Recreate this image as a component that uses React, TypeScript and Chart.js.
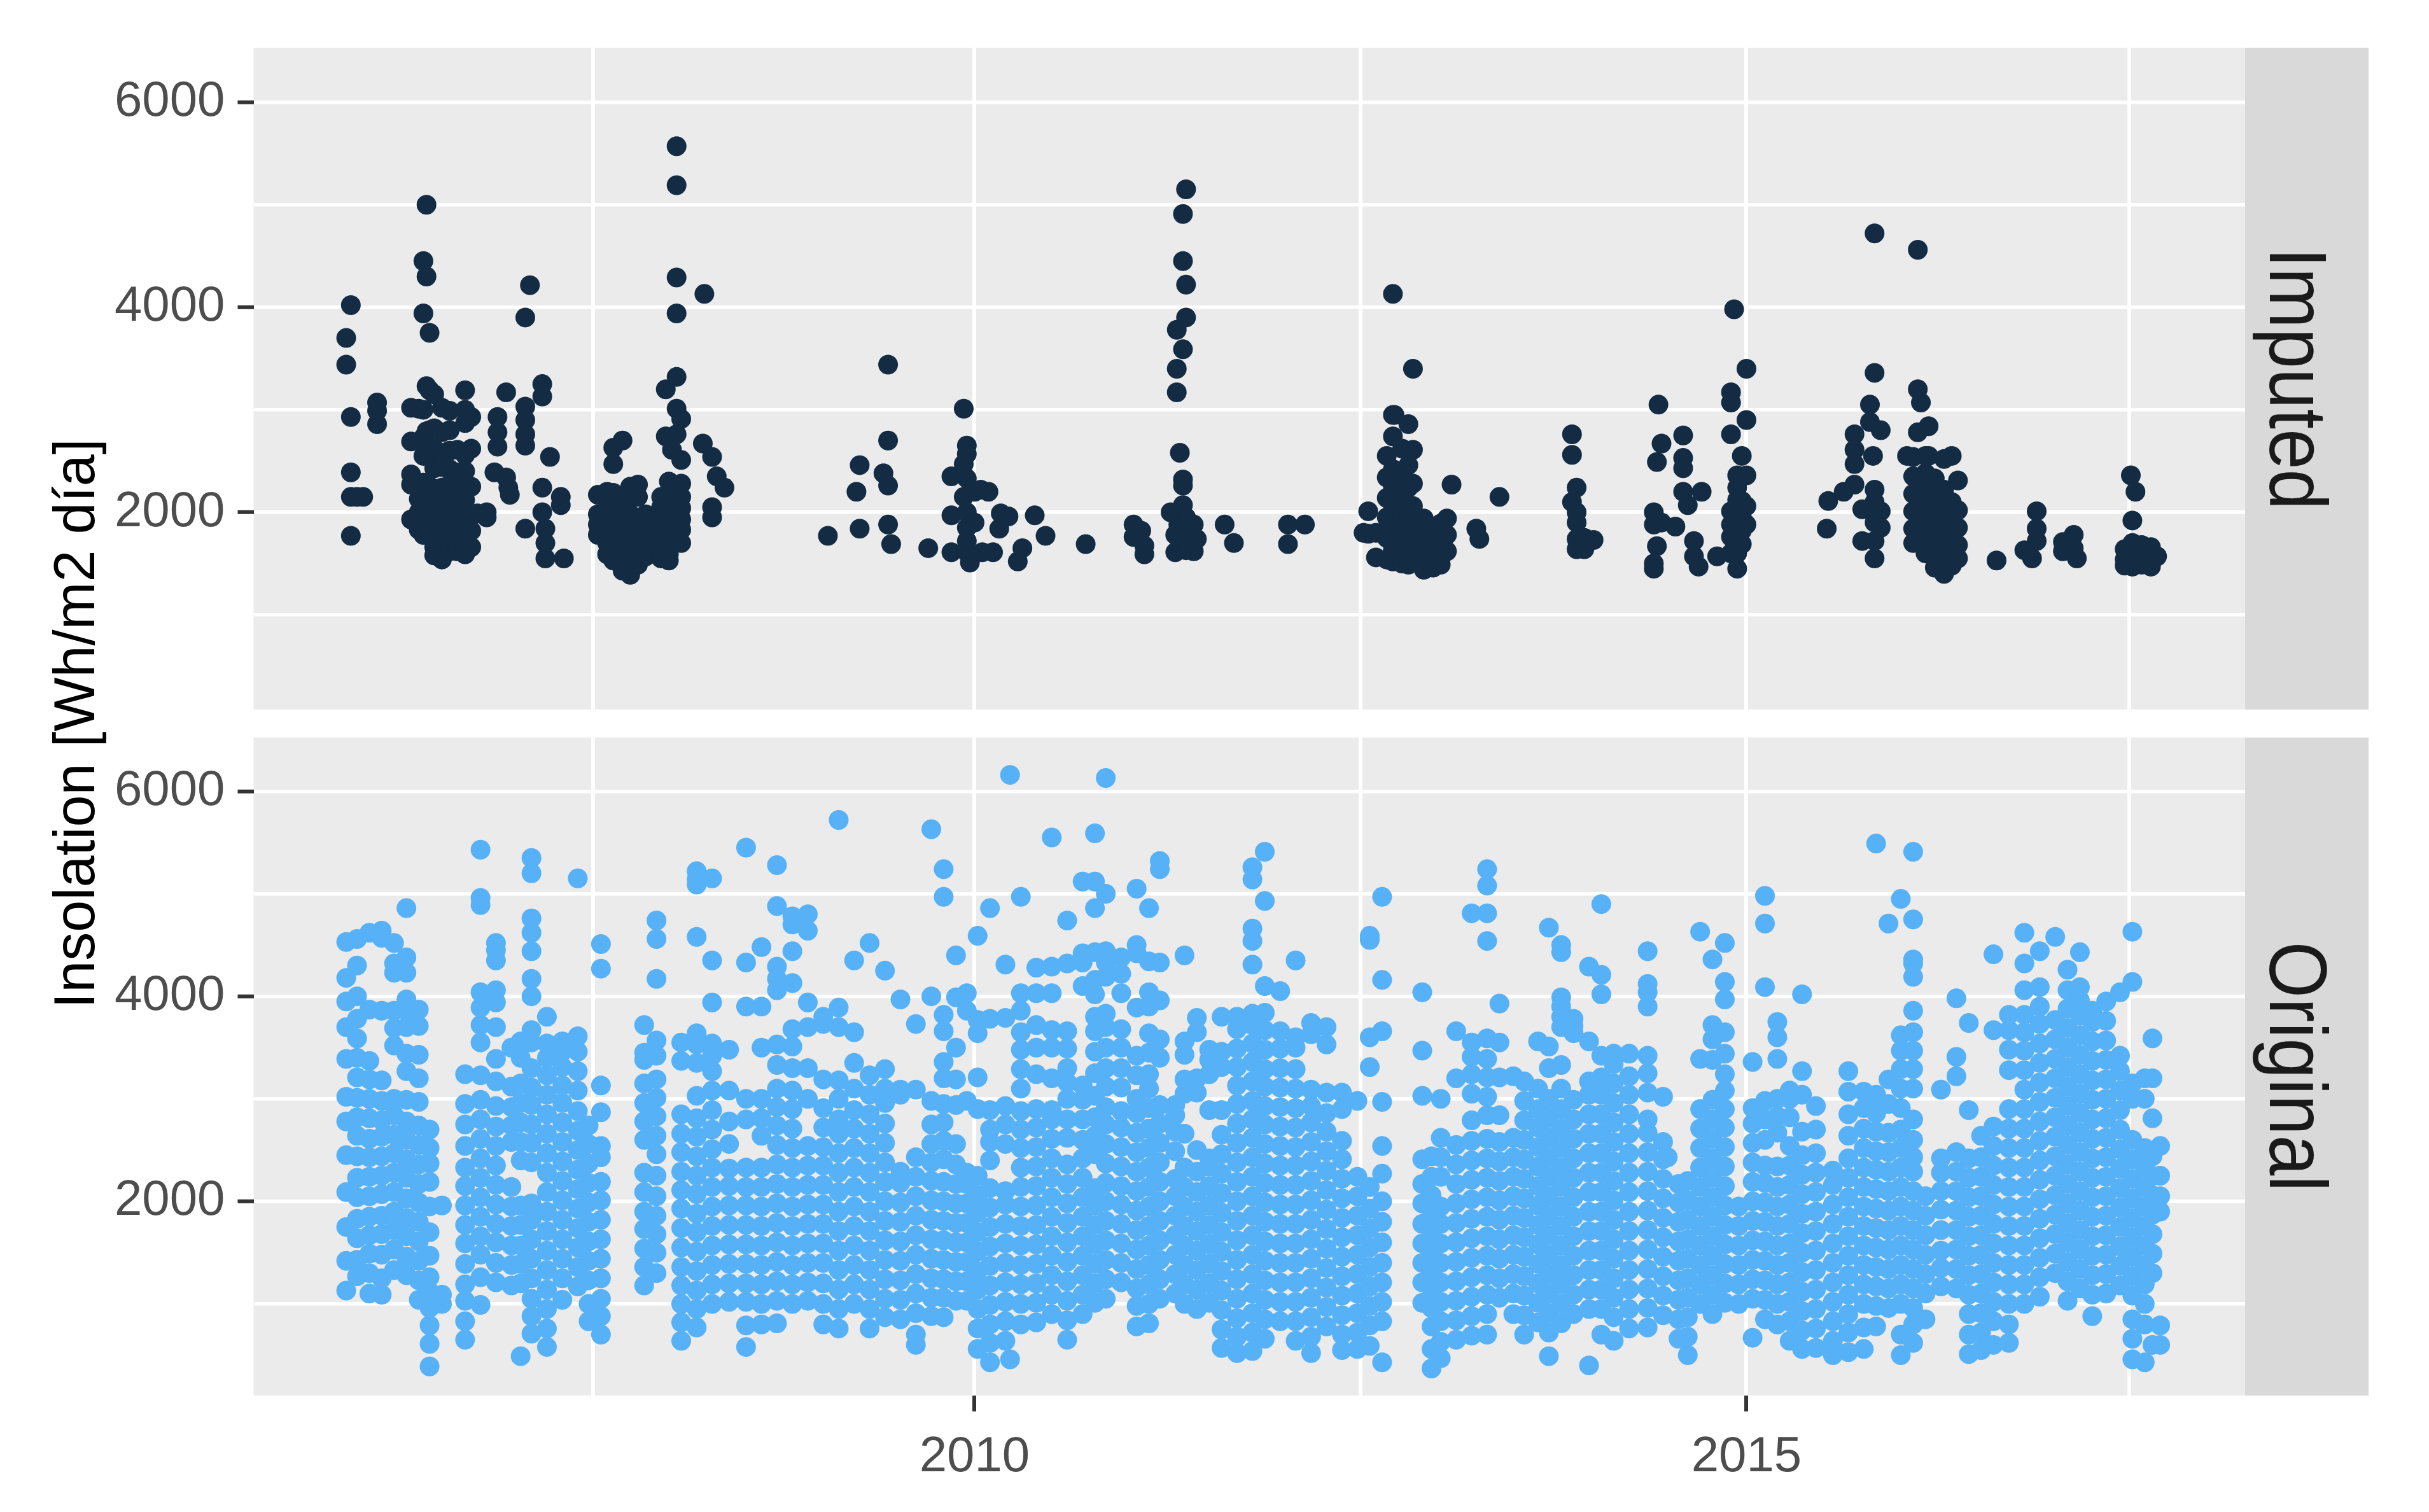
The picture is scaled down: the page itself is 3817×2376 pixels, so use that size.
import React, { useEffect, useRef } from "react";
import { Chart, registerables } from "chart.js";

Chart.register(...registerables);

const xBreaks = [2007.53, 2010, 2012.5, 2015, 2017.48];
const xLabelled = [2010, 2015];
const yBreaks = [1000, 2000, 3000, 4000, 5000, 6000];
const yLabelled = [2000, 4000, 6000];
const facets = ["Imputed", "Original"];
const yTitle = "Insolation [Wh/m2 día]";

// each row: year, then the insolation values read at that year
const imputed2006to2008 = [
  [2005.93, 3700, 3440], [2005.96, 4020, 2930, 2390, 2150, 1770], [2006.0, 2150], [2006.04, 2150], [2006.13, 3070, 2990, 2860],
  [2006.35, 3020, 2690, 2370, 2270, 1930], [2006.4, 3010, 2130, 2000, 1900, 1830], [2006.43, 4450, 3940, 3000, 2730, 2550, 2290, 2100, 1990, 1870, 1780],
  [2006.45, 5000, 4300, 3230, 2790, 2650, 2290, 2120, 2000, 1840], [2006.47, 3750, 3190, 2800, 2560],
  [2006.5, 3150, 2820, 2620, 2430, 2230, 2080, 1950, 1810, 1660, 1580], [2006.55, 3020, 2780, 2580, 2440, 2240, 2090, 1920, 1790, 1670, 1540],
  [2006.6, 2990, 2800, 2600, 2420, 2270, 2120, 1970, 1820, 1690, 1620], [2006.65, 2610, 2390, 2200, 2020, 1860, 1710, 1620],
  [2006.7, 3190, 3000, 2870, 2560, 2400, 2250, 2120, 1990, 1810, 1680, 1590], [2006.74, 2930, 2620, 2250, 1970, 1820, 1660],
  [2006.78, 1990], [2006.84, 2000, 1950], [2006.89, 2390], [2006.91, 2930, 2780, 2640], [2006.966, 3170, 2340], [2006.98, 2240], [2006.99, 2170],
  [2007.09, 3900, 3030, 2900, 2760, 2650, 1840], [2007.12, 4215], [2007.2, 3250, 3130, 2240, 2000], [2007.22, 1840, 1700, 1550], [2007.25, 2540], [2007.32, 2150, 2070], [2007.34, 1550],
  [2007.56, 2170, 1980, 1880, 1780], [2007.62, 2200, 2060, 1930, 1800, 1700, 1590], [2007.66, 2630, 2470, 2190, 1990, 1870, 1750, 1640, 1530],
  [2007.72, 2700, 2150, 2050, 1940, 1830, 1720, 1600, 1490, 1430], [2007.77, 2250, 2150, 1980, 1860, 1760, 1650, 1530, 1420, 1390],
  [2007.82, 2270, 2150, 1920, 1800, 1690, 1590, 1490], [2007.87, 1980, 1860, 1750, 1640, 1570], [2007.94, 1950, 1830, 1720, 1630, 1590],
  [2007.97, 2050, 2150, 1940, 1820, 1700, 1600, 1550], [2008.0, 3200, 2740], [2008.02, 2300, 2170, 2060, 1950, 1830, 1720, 1590, 1530], [2008.04, 2610],
  [2008.07, 5570, 5190, 4290, 3940, 3320, 3010, 2760, 2260, 2090, 1900, 1780], [2008.1, 2910, 2510, 2280, 2150, 2040, 1930, 1830, 1700],
  [2008.24, 2670], [2008.25, 4130], [2008.3, 2540, 2050, 1950], [2008.33, 2350], [2008.38, 2240],
];
const imputed2009to2012 = [
  [2009.05, 1770], [2009.235, 2200], [2009.256, 2460, 1840], [2009.41, 2380], [2009.44, 3440, 2700, 2260, 1880], [2009.46, 1690], [2009.7, 1650],
  [2009.85, 2350, 1970, 1610], [2009.93, 3010, 2470, 2150], [2009.95, 2650, 2570, 2330, 2000, 1850, 1720, 1610], [2009.97, 1510], [2010.0, 2200, 1900],
  [2010.04, 2220], [2010.05, 1610], [2010.09, 2200], [2010.12, 1610], [2010.16, 1840], [2010.17, 1990], [2010.22, 1960], [2010.28, 1520], [2010.31, 1650], [2010.39, 1970], [2010.46, 1770], [2010.72, 1690],
  [2011.03, 1760, 1880], [2011.08, 1820], [2011.1, 1675, 1590], [2011.27, 2000], [2011.3, 1610, 1780], [2011.31, 3780, 3400, 3170], [2011.32, 1880], [2011.33, 2580],
  [2011.35, 4910, 4450, 3590, 2320, 2260, 2070], [2011.37, 5150, 4220, 3900, 1950, 1740, 1630], [2011.42, 1880, 1760, 1620], [2011.44, 1740],
  [2011.62, 1880], [2011.68, 1700], [2012.03, 1880, 1690], [2012.14, 1880],
  [2012.52, 1800], [2012.55, 2010, 1790], [2012.6, 1800, 1560], [2012.67, 2550, 2340, 2140, 1950, 1750, 1540], [2012.71, 4130, 2950, 2740, 2420, 2230, 2030, 1850, 1640, 1520],
  [2012.72, 2950], [2012.77, 2620, 2330, 2150, 1960, 1780, 1600, 1500], [2012.81, 2860, 2460, 2240, 2030, 1840, 1680, 1490], [2012.84, 3400, 2610, 2280, 2060, 1880, 1700, 1560],
  [2012.91, 1940, 1790, 1640, 1520, 1440], [2012.97, 1820, 1680, 1540, 1460], [2013.02, 1890, 1730, 1590, 1490], [2013.06, 1940, 1780, 1620], [2013.09, 2270],
];
const imputed2013to2017 = [
  [2013.25, 1840], [2013.27, 1740], [2013.4, 2150], [2013.87, 2760, 2560, 2100], [2013.9, 2240, 2000, 1900, 1740, 1640], [2013.95, 1750, 1640], [2014.01, 1730],
  [2014.4, 2000, 1880, 1500, 1450], [2014.42, 2490, 1670], [2014.43, 3050], [2014.45, 2670, 1900], [2014.54, 1860], [2014.59, 2750, 2530, 2430, 2200], [2014.62, 2070], [2014.66, 1720, 1570], [2014.69, 1470], [2014.71, 2200], [2014.81, 1570],
  [2014.9, 3170, 3070, 2760, 2010, 1880, 1760, 1600], [2014.92, 3980], [2014.94, 2360, 2240, 2120, 1880, 1720, 1600, 1450], [2014.97, 2550, 2110, 1950, 1820, 1690], [2015.0, 3400, 2900, 2360, 2060, 1880],
  [2015.52, 1840], [2015.53, 2110], [2015.63, 2200], [2015.7, 2760, 2610, 2470, 2270], [2015.75, 2030, 1720], [2015.8, 3050, 2880], [2015.82, 2550], [2015.83, 4720, 3360, 2220, 2100, 1900, 1720, 1550], [2015.87, 2800, 2010, 1850],
  [2016.04, 2550], [2016.08, 2540, 2350, 2180, 2010, 1840, 1700], [2016.11, 4560, 3200, 2780], [2016.13, 3070], [2016.16, 2550, 2380, 2220, 2060, 1890, 1720, 1600],
  [2016.18, 2840, 2550], [2016.22, 2330, 2170, 2000, 1840, 1680, 1540, 1460], [2016.28, 2520, 2220, 2060, 1900, 1730, 1570, 1460, 1400], [2016.33, 2550, 2100, 1920, 1760, 1600, 1480], [2016.37, 2310, 2020, 1850, 1680, 1550],
  [2016.62, 1530], [2016.8, 1630], [2016.85, 1550], [2016.88, 2010, 1840, 1720], [2017.05, 1710, 1620], [2017.12, 1780, 1650], [2017.14, 1550],
  [2017.45, 1640, 1540, 1480], [2017.49, 2360], [2017.5, 1920, 1700, 1580, 1470], [2017.52, 2200], [2017.56, 1680, 1560, 1490], [2017.62, 1660, 1550, 1470], [2017.66, 1570],
];

const original2006 = [
  [2005.93, 1130, 1420, 1750, 2090, 2450, 2780, 3020, 3390, 3700, 3950, 4180, 4530],
  [2006.0, 1270, 1430, 1640, 1830, 2040, 2230, 2440, 2640, 2820, 3010, 3210, 3400, 3590, 3780, 4000, 4300, 4560],
  [2006.08, 1100, 1300, 1490, 1670, 1850, 2050, 2240, 2430, 2610, 2810, 3000, 3190, 3370, 3870, 4620],
  [2006.16, 1090, 1250, 1480, 1680, 1860, 2070, 2250, 2440, 2630, 2790, 2980, 3180, 3860, 4640, 4570],
  [2006.24, 1330, 1530, 1720, 1900, 2090, 2280, 2470, 2650, 2840, 3000, 3520, 3690, 3860, 4230, 4320, 4520],
  [2006.32, 1280, 1460, 1660, 1840, 2030, 2230, 2410, 2600, 2780, 2990, 3270, 3440, 3700, 3860, 3970, 4230, 4380, 4860],
  [2006.4, 1040, 1230, 1420, 1610, 1800, 1990, 2170, 2360, 2550, 2740, 2970, 3200, 3430, 3710, 3870],
  [2006.47, 390, 610, 790, 960, 1120, 1260, 1470, 1700, 1950, 2190, 2370, 2520, 2700],
  [2006.55, 1000, 1090, 1960],
  [2006.7, 650, 830, 1030, 1190, 1390, 1590, 1770, 1960, 2150, 2330, 2540, 2750, 2950, 3240],
  [2006.8, 990, 1260, 1480, 1660, 1850, 2040, 2230, 2420, 2610, 2800, 2990, 3230, 3550, 3720, 3890, 4040, 4890, 4960, 5430],
  [2006.9, 1210, 1400, 1600, 1780, 1970, 2160, 2350, 2540, 2730, 2930, 3170, 3390, 3700, 3940, 4060, 4350, 4450, 4520],
];
const original2007 = [
  [2007.0, 1180, 1380, 1570, 1760, 1950, 2140, 2580, 2740, 2920, 3120, 3500],
  [2007.06, 490, 1200, 1390, 1570, 1770, 1960, 2400, 2580, 2770, 2960, 3150, 3400, 3560],
  [2007.13, 710, 880, 1050, 1250, 1440, 1630, 1820, 1980, 2380, 2570, 2750, 2940, 3110, 3300, 3550, 3670, 4000, 4170, 4440, 4620, 4760, 5200, 5350],
  [2007.23, 580, 760, 950, 1140, 1330, 1520, 1710, 1900, 2090, 2280, 2470, 2660, 2850, 3040, 3230, 3400, 3540, 3800],
  [2007.33, 1040, 1250, 1440, 1630, 1820, 2010, 2200, 2390, 2580, 2770, 2960, 3130, 3310, 3460, 3560],
  [2007.43, 1170, 1360, 1550, 1740, 1930, 2120, 2310, 2500, 2690, 2880, 3080, 3270, 3460, 3610, 5150],
  [2007.5, 830, 1000, 1230, 1420, 1610, 1800, 1990, 2180, 2370, 2560, 2740],
  [2007.58, 700, 880, 1050, 1250, 1440, 1630, 1820, 2010, 2190, 2430, 2540, 2870, 3130, 4270, 4510],
  [2007.86, 1180, 1360, 1540, 1730, 1900, 2090, 2280, 2600, 2780, 2960, 3150, 3380, 3450, 3720],
  [2007.94, 1300, 1500, 1680, 1860, 2050, 2250, 2460, 2640, 2830, 3010, 3190, 3420, 3570, 4170, 4560, 4740],
];
const original2008 = [
  [2008.1, 640, 820, 1000, 1180, 1360, 1550, 1740, 1930, 2110, 2290, 2480, 2660, 2850, 3370, 3550],
  [2008.2, 770, 950, 1130, 1320, 1510, 1700, 1880, 2070, 2250, 2440, 2630, 2810, 3030, 3350, 3530, 3640, 4580, 5090, 5140, 5220],
  [2008.3, 1000, 1190, 1380, 1570, 1760, 1950, 2140, 2330, 2510, 2700, 2890, 3080, 3270, 3420, 3540, 3940, 4350, 5150],
  [2008.41, 1020, 1200, 1390, 1580, 1770, 1960, 2150, 2320, 2560, 2780, 3080, 3480],
  [2008.52, 580, 790, 1020, 1200, 1390, 1580, 1770, 1960, 2140, 2330, 2800, 3000, 3900, 4330, 5450],
  [2008.62, 800, 1000, 1190, 1380, 1570, 1760, 1950, 2140, 2330, 2640, 2810, 3000, 3500, 3900, 4480],
  [2008.72, 810, 1030, 1220, 1410, 1600, 1790, 1980, 2170, 2360, 2550, 2740, 2920, 3100, 3330, 3530, 4060, 4170, 4290, 4880, 5280],
  [2008.82, 1000, 1190, 1380, 1570, 1760, 1950, 2140, 2330, 2520, 2710, 2900, 3080, 3300, 3510, 3680, 4130, 4440, 4700, 4780],
  [2008.92, 1030, 1210, 1400, 1590, 1780, 1970, 2160, 2350, 2540, 3000, 3300, 3700, 3940, 4640, 4800],
];
const original2009 = [
  [2009.02, 800, 1000, 1200, 1400, 1590, 1780, 1970, 2160, 2350, 2530, 2720, 2910, 3190, 3730, 3800],
  [2009.12, 760, 950, 1140, 1330, 1520, 1710, 1900, 2090, 2280, 2470, 2660, 2800, 3000, 3180, 3700, 3890, 5720],
  [2009.22, 1000, 1190, 1380, 1570, 1760, 1950, 2140, 2330, 2520, 2710, 2890, 3100, 3350, 3650, 4350],
  [2009.32, 760, 950, 1140, 1330, 1520, 1710, 1900, 2090, 2280, 2470, 2660, 2850, 3040, 3230, 4520],
  [2009.42, 870, 1050, 1240, 1430, 1620, 1810, 2000, 2190, 2380, 2570, 2760, 2960, 3100, 3290, 4250],
  [2009.52, 850, 1040, 1230, 1420, 1610, 1800, 1990, 2180, 2290, 3040, 3090, 3970],
  [2009.62, 600, 700, 910, 1100, 1290, 1480, 1670, 1860, 2050, 2240, 2430, 3090, 3730],
  [2009.72, 880, 1060, 1250, 1440, 1630, 1820, 2010, 2200, 2380, 2560, 2750, 2980, 4000, 5630],
  [2009.8, 870, 1060, 1240, 1430, 1620, 1810, 2000, 2190, 2410, 2590, 2770, 2950, 3200, 3360, 3660, 3820, 4970, 5240],
  [2009.88, 1030, 1220, 1410, 1600, 1790, 1980, 2170, 2360, 2560, 2940, 3190, 3500, 3990, 4400],
  [2009.95, 1030, 1220, 1410, 1600, 1790, 1980, 2170, 2280, 2980, 3860, 4030],
];
const original2010 = [
  [2010.02, 560, 760, 950, 1140, 1320, 1510, 1700, 1890, 2060, 2250, 2900, 3210, 3640, 3770, 4590],
  [2010.1, 430, 620, 800, 990, 1180, 1370, 1560, 1750, 1940, 2130, 2400, 2580, 2700, 2890, 3780, 4860],
  [2010.2, 640, 830, 1020, 1210, 1400, 1590, 1780, 1970, 2100, 2560, 2750, 2930, 3790, 4310],
  [2010.23, 460, 6160],
  [2010.3, 800, 1000, 1190, 1380, 1570, 1760, 1950, 2140, 2330, 2520, 2700, 2880, 3100, 3290, 3480, 3650, 3860, 4030, 4970],
  [2010.4, 820, 1010, 1200, 1390, 1580, 1770, 1960, 2150, 2340, 2530, 2720, 2900, 3240, 3500, 3720, 4030, 4280],
  [2010.5, 900, 1090, 1280, 1470, 1660, 1850, 2040, 2230, 2420, 2610, 2800, 2890, 3200, 3500, 3670, 4030, 4290, 5550],
  [2010.6, 650, 840, 1030, 1220, 1410, 1600, 1790, 1980, 2170, 2360, 2620, 2800, 3000, 3160, 3300, 3490, 3660, 4320, 4740],
  [2010.7, 900, 1090, 1280, 1470, 1660, 1850, 2040, 2230, 2420, 2600, 2800, 2990, 3130, 4100, 4330, 4420, 5120],
  [2010.78, 1010, 1200, 1390, 1580, 1770, 1960, 2130, 2460, 2640, 2820, 3030, 3250, 3460, 3660, 3800, 4020, 4160, 4430, 4860, 5120, 5590],
  [2010.85, 1050, 1240, 1430, 1620, 1810, 2000, 2180, 2370, 2560, 2750, 2920, 3120, 3300, 3500, 3700, 3830, 4190, 4330, 4440, 5000, 6130],
  [2010.95, 1210, 1400, 1590, 1780, 1970, 2150, 2340, 2530, 2720, 2880, 3110, 3300, 3500, 3680, 4030, 4220, 4380],
];
const original2011 = [
  [2011.05, 780, 980, 1150, 1340, 1530, 1720, 1910, 2100, 2290, 2480, 2670, 2860, 3000, 3230, 3420, 3890, 4420, 4500, 5050],
  [2011.13, 810, 1000, 1190, 1380, 1570, 1760, 1950, 2140, 2330, 2520, 2710, 2910, 3100, 3240, 3450, 3640, 3900, 4040, 4340, 4860],
  [2011.2, 1050, 1240, 1430, 1620, 1810, 2000, 2190, 2380, 2570, 2760, 2940, 3400, 3580, 3960, 4330, 5240, 5320],
  [2011.3, 1100, 1290, 1480, 1670, 1860, 2050, 2220, 2490, 2680, 2840, 2940],
  [2011.36, 1000, 1190, 1380, 1570, 1760, 1950, 2140, 2330, 2660, 3050, 3190, 3430, 3560, 4400],
  [2011.44, 950, 1140, 1330, 1520, 1710, 1900, 2090, 2290, 2500, 3060, 3200, 3650, 3790],
  [2011.52, 1010, 1200, 1390, 1580, 1770, 1960, 2150, 2340, 2420, 2890, 3240, 3380, 3480],
  [2011.6, 570, 750, 940, 1130, 1320, 1510, 1700, 1890, 2080, 2270, 2460, 2650, 2890, 3310, 3460, 3800],
  [2011.7, 520, 680, 860, 1050, 1240, 1430, 1620, 1810, 2000, 2190, 2380, 2570, 2760, 2950, 3130, 3310, 3490, 3680, 3800],
  [2011.8, 540, 720, 910, 1100, 1290, 1480, 1670, 1860, 2050, 2240, 2430, 2620, 2800, 2980, 3170, 3360, 3540, 3720, 3830, 4310, 4540, 4660, 5140, 5260],
  [2011.88, 660, 850, 1040, 1230, 1420, 1610, 1800, 1990, 2180, 2370, 2560, 2750, 2930, 3120, 3290, 3480, 3670, 3840, 4100, 4930, 5410],
  [2011.98, 830, 1020, 1210, 1400, 1590, 1780, 1970, 2160, 2350, 2540, 2730, 2920, 3110, 3300, 3490, 3660, 4050],
];
const original2012 = [
  [2012.08, 640, 830, 1020, 1210, 1400, 1590, 1780, 1970, 2160, 2350, 2530, 2720, 2910, 3100, 3290, 3500, 3600, 4350],
  [2012.18, 520, 680, 870, 1060, 1250, 1440, 1630, 1820, 2010, 2200, 2390, 2580, 2770, 2930, 3090, 3630, 3740],
  [2012.28, 780, 970, 1160, 1350, 1540, 1730, 1920, 2110, 2300, 2490, 2680, 2860, 3060, 3530, 3700],
  [2012.38, 550, 700, 890, 1080, 1270, 1460, 1650, 1840, 2030, 2220, 2410, 2590, 2900, 3060],
  [2012.48, 560, 720, 910, 1100, 1290, 1480, 1670, 1860, 2050, 2240, 2980],
  [2012.56, 590, 790, 980, 1170, 1360, 1550, 1740, 1930, 2140, 3310, 3600, 4550, 4590],
  [2012.64, 430, 830, 1020, 1210, 1400, 1600, 1800, 2000, 2270, 2540, 2970, 3660, 4160, 4970],
  [2012.9, 1010, 1210, 1400, 1590, 1780, 1980, 2170, 2410, 3030, 3470, 4040],
  [2012.96, 370, 560, 780, 960, 1150, 1340, 1530, 1720, 1900, 2060, 2240, 2440],
];
const original2013 = [
  [2013.02, 470, 630, 830, 1020, 1210, 1400, 1590, 1780, 1950, 2240, 2430, 2620, 3000],
  [2013.12, 650, 840, 1030, 1220, 1410, 1600, 1790, 1980, 2170, 2360, 2550, 3200, 3660],
  [2013.22, 690, 880, 1070, 1260, 1450, 1640, 1830, 2020, 2210, 2400, 2590, 2790, 3050, 3240, 3410, 3550, 4810],
  [2013.32, 700, 900, 1090, 1280, 1470, 1660, 1850, 2040, 2230, 2420, 2610, 2840, 3020, 3210, 3390, 3590, 4540, 4810, 5080, 5240],
  [2013.4, 1060, 1250, 1440, 1630, 1820, 2010, 2200, 2390, 2580, 2840, 3210, 3550, 3930],
  [2013.49, 900, 1100, 1290, 1480, 1670, 1860, 2050, 2240, 2430, 2620, 3220],
  [2013.56, 700, 890, 1080, 1270, 1460, 1650, 1840, 2030, 2220, 2410, 2600, 2790, 2980, 3170],
  [2013.65, 820, 1010, 1200, 1390, 1580, 1770, 1960, 2150, 2340, 2530, 2720, 2900, 3100, 3560],
  [2013.72, 490, 720, 910, 1100, 1290, 1480, 1670, 1860, 2050, 2240, 2430, 2620, 2810, 3000, 3300, 3510, 4670],
  [2013.8, 810, 1000, 1190, 1380, 1570, 1760, 1950, 2140, 2330, 2520, 2710, 2900, 3100, 3330, 3700, 3800, 3900, 3990, 4430, 4500],
  [2013.88, 900, 1090, 1280, 1470, 1660, 1850, 2040, 2230, 2420, 2610, 2800, 2990, 3640, 3710, 3780],
  [2013.98, 400, 950, 1140, 1330, 1520, 1710, 1900, 2090, 2280, 2470, 2660, 2850, 3040, 3170, 3560, 4290],
];
const original2014 = [
  [2014.06, 700, 950, 1140, 1330, 1520, 1710, 1900, 2090, 2280, 2470, 2660, 2850, 3040, 3210, 3420, 4020, 4210, 4900],
  [2014.14, 640, 870, 1060, 1250, 1440, 1630, 1820, 2010, 2200, 2390, 2580, 2770, 2960, 3150, 3340, 3440],
  [2014.24, 760, 950, 1140, 1330, 1520, 1710, 1900, 2090, 2280, 2470, 2660, 2850, 3040, 3220, 3440],
  [2014.36, 770, 960, 1150, 1340, 1530, 1720, 1910, 2100, 2290, 2480, 2670, 2800, 3060, 3250, 3420, 3900, 4040, 4120, 4440],
  [2014.46, 890, 1080, 1270, 1460, 1650, 1840, 2030, 2220, 2410, 2580, 3020],
  [2014.49, 2430],
  [2014.56, 660, 850, 1040, 1230, 1420, 1610, 1800, 1990, 2170],
  [2014.62, 500, 680, 870, 1060, 1250, 1440, 1630, 1820, 2010, 2200],
  [2014.7, 1000, 1190, 1380, 1570, 1760, 1950, 2140, 2330, 2520, 2710, 2900, 3390, 4630],
  [2014.78, 900, 1090, 1280, 1470, 1660, 1850, 2040, 2230, 2420, 2610, 2800, 2990, 3380, 3580, 3720, 4360],
  [2014.86, 1010, 1200, 1390, 1580, 1770, 1960, 2150, 2340, 2530, 2720, 2900, 3080, 3240, 3440, 3650, 3970, 4140, 4520],
  [2014.95, 1000, 1190, 1380, 1570, 1760, 1950],
];
const original2015 = [
  [2015.04, 670, 1050, 1240, 1430, 1620, 1810, 2000, 2190, 2380, 2570, 2760, 2910, 3360],
  [2015.12, 850, 1040, 1230, 1420, 1610, 1800, 1990, 2180, 2350, 2600, 2800, 2980, 4090, 4710, 4980],
  [2015.2, 800, 1000, 1190, 1380, 1570, 1760, 1950, 2140, 2340, 2670, 2830, 3000, 3390, 3600, 3750],
  [2015.28, 640, 830, 1020, 1210, 1400, 1590, 1780, 1970, 2160, 2350, 2540, 2820, 3000, 3080],
  [2015.36, 560, 740, 930, 1120, 1310, 1500, 1690, 1880, 2070, 2260, 2450, 2680, 3040, 3270, 4020],
  [2015.45, 570, 760, 950, 1140, 1330, 1520, 1710, 1900, 2090, 2280, 2470, 2700, 2930],
  [2015.56, 500, 640, 830, 1020, 1210, 1400, 1590, 1780, 1970, 2160, 2300],
  [2015.66, 530, 720, 900, 1090, 1280, 1470, 1660, 1850, 2040, 2230, 2420, 2640, 2850, 3070, 3270],
  [2015.76, 560, 770, 1000, 1190, 1380, 1570, 1760, 1950, 2140, 2330, 2520, 2710, 2910, 3070],
  [2015.84, 780, 980, 1170, 1360, 1550, 1740, 1930, 2120, 2310, 2490, 2680, 2860, 3040, 5490],
  [2015.92, 960, 1150, 1340, 1530, 1720, 1910, 2100, 2290, 2480, 2670, 2950, 3190, 4710],
];
const original2016 = [
  [2016.0, 500, 700, 1000, 1190, 1380, 1570, 1760, 1950, 2140, 2330, 2520, 2700, 2910, 3100, 3290, 3470, 3620, 4950],
  [2016.08, 620, 800, 960, 1150, 1340, 1530, 1720, 1910, 2100, 2290, 2430, 2600, 2800, 3100, 3290, 3470, 3650, 3860, 4190, 4320, 4360, 4750, 5410],
  [2016.16, 850, 1100, 1290, 1480, 1670, 1860, 2050],
  [2016.26, 1170, 1350, 1520, 1720, 1920, 2100, 2280, 2420, 3090],
  [2016.36, 1150, 1340, 1530, 1720, 1910, 2100, 2290, 2480, 3220, 3410, 3980],
  [2016.44, 510, 700, 900, 1090, 1280, 1470, 1660, 1850, 2040, 2230, 2420, 2890, 3740],
  [2016.52, 550, 720, 910, 1100, 1290, 1480, 1670, 1860, 2050, 2240, 2430, 2640],
  [2016.6, 600, 830, 1020, 1210, 1400, 1590, 1780, 1970, 2160, 2350, 2540, 2730, 3670, 4410],
  [2016.7, 620, 800, 1000, 1190, 1380, 1570, 1760, 1950, 2140, 2330, 2520, 2710, 2900, 3280, 3480, 3670, 3820],
  [2016.8, 1000, 1190, 1380, 1570, 1760, 1950, 2140, 2330, 2520, 2710, 2900, 3090, 3280, 3470, 3650, 3820, 4060, 4320, 4620],
  [2016.9, 1070, 1260, 1450, 1640, 1830, 2020, 2210, 2400, 2590, 2780, 2970, 3160, 3350, 3540, 3730, 3900, 4090, 4440],
];
const original2017 = [
  [2017.0, 1300, 1490, 1680, 1870, 2060, 2250, 2440, 2630, 2820, 3010, 3200, 3390, 3580, 3770, 4580],
  [2017.08, 1030, 1220, 1410, 1600, 1790, 1980, 2170, 2360, 2550, 2740, 2930, 3120, 3310, 3500, 3690, 3880, 4060, 4260],
  [2017.16, 1150, 1340, 1530, 1720, 1910, 2100, 2290, 2480, 2670, 2860, 3050, 3240, 3430, 3620, 3810, 3960, 4090, 4430],
  [2017.24, 880, 1090, 1280, 1470, 1660, 1850, 2040, 2230, 2420, 2610, 2800, 2990, 3180, 3370, 3560, 3750, 3860],
  [2017.33, 1100, 1290, 1480, 1670, 1860, 2050, 2240, 2430, 2620, 2810, 3000, 3190, 3380, 3570, 3760, 3950],
  [2017.42, 1180, 1370, 1560, 1750, 1940, 2130, 2320, 2510, 2700, 2890, 3080, 3270, 3420, 4040],
  [2017.5, 460, 660, 850, 1080, 1270, 1460, 1650, 1840, 2030, 2220, 2410, 2600, 3000, 3150, 4140, 4630],
  [2017.58, 430, 800, 1000, 1190, 1380, 1570, 1760, 1950, 2140, 2330, 2520, 3000, 3200],
  [2017.63, 600, 1300, 1490, 1680, 1870, 2060, 2250, 2440, 2810, 3200, 3590],
  [2017.68, 600, 790, 1900, 2050, 2250, 2540],
];

const toPoints = (rows: number[][]) => rows.flatMap(([x, ...ys]) => ys.map((y) => ({ x, y })));
const imputedPoints = toPoints([...imputed2006to2008, ...imputed2009to2012, ...imputed2013to2017]);
const originalPoints = toPoints([
  ...original2006, ...original2007, ...original2008, ...original2009, ...original2010, ...original2011,
  ...original2012, ...original2013, ...original2014, ...original2015, ...original2016, ...original2017,
]);

const W = 3817;
const H = 2376;
const FONT = '"Liberation Sans", Arial, sans-serif';
const panelLeft = 398.5;
const panelRight = 3528;
const stripRight = 3722;
const panelTop = 75;
const panelBottom = 2193;
const gap = 44;
const topHeight = 1040;
const botHeight = 1034;

const panelPlugin = {
  id: "panels",
  beforeDraw(chart: any) {
    const { ctx } = chart;
    const yTop = chart.scales.yTop;
    const yBot = chart.scales.yBot;
    ctx.save();
    ctx.fillStyle = "#FFFFFF";
    ctx.fillRect(0, 0, W, H);
    [yTop, yBot].forEach((s: any, i: number) => {
      ctx.fillStyle = "#EBEBEB";
      ctx.fillRect(panelLeft, s.top, panelRight - panelLeft, s.bottom - s.top);
      ctx.fillStyle = "#D9D9D9";
      ctx.fillRect(panelRight, s.top, stripRight - panelRight, s.bottom - s.top);
      ctx.save();
      ctx.translate(3567, (s.top + s.bottom) / 2);
      ctx.rotate(Math.PI / 2);
      ctx.scale(1, 1.12);
      ctx.font = `114px ${FONT}`;
      ctx.fillStyle = "#1A1A1A";
      ctx.textAlign = "center";
      ctx.textBaseline = "alphabetic";
      ctx.fillText(facets[i], 0, 0);
      ctx.restore();
    });
    ctx.restore();
  },
};

const yGrid = {
  color: "#FFFFFF",
  lineWidth: 5.5,
  drawTicks: true,
  tickLength: 25,
  tickWidth: 6,
  tickColor: (c: any) => (yLabelled.includes(c.tick?.value) ? "#333333" : "rgba(0,0,0,0)"),
};

const yScale = (min: number, max: number, height: number, weight: number) => ({
  type: "linear",
  position: "left",
  stack: "panels",
  stackWeight: height,
  weight,
  min,
  max,
  border: { display: false },
  grid: yGrid,
  ticks: {
    color: "#4D4D4D",
    font: { family: FONT, size: 78 },
    padding: 20,
    autoSkip: false,
    callback: (v: number) => (yLabelled.includes(v) ? String(v) : ""),
  },
  afterBuildTicks: (s: any) => {
    s.ticks = yBreaks.map((value) => ({ value }));
  },
  afterFit: (s: any) => {
    s.width = panelLeft;
  },
});

export default function App() {
  const ref = useRef<HTMLCanvasElement>(null);
  useEffect(() => {
    if (!ref.current) return;
    const chart = new Chart(ref.current, {
      type: "scatter",
      data: {
        datasets: [
          { label: facets[0], data: imputedPoints, yAxisID: "yTop", backgroundColor: "#132B43", pointRadius: 15.5, pointBorderWidth: 0 },
          { label: facets[1], data: originalPoints, yAxisID: "yBot", backgroundColor: "#56B1F7", pointRadius: 15.5, pointBorderWidth: 0 },
        ],
      },
      options: {
        responsive: false,
        animation: false,
        events: [],
        layout: { padding: { left: 0, right: W - panelRight, top: panelTop, bottom: 0 } },
        plugins: { legend: { display: false }, tooltip: { enabled: false }, title: { display: false } },
        scales: {
          x: {
            type: "linear",
            position: "bottom",
            min: 2005.33,
            max: 2018.23,
            border: { display: false },
            grid: {
              color: "#FFFFFF",
              lineWidth: 6,
              tickLength: 25,
              tickWidth: 6,
              tickColor: (c: any) => (xLabelled.includes(c.tick?.value) ? "#333333" : "rgba(0,0,0,0)"),
            },
            ticks: {
              color: "#4D4D4D",
              font: { family: FONT, size: 78 },
              padding: 26,
              maxRotation: 0,
              autoSkip: false,
              callback: (v: number) => (xLabelled.includes(v) ? String(v) : ""),
            },
            afterBuildTicks: (s: any) => {
              s.ticks = xBreaks.map((value) => ({ value }));
            },
            afterFit: (s: any) => {
              s.height = H - panelBottom;
            },
          },
          yTop: yScale(76, 6531, topHeight, 3),
          yGap: {
            type: "linear",
            position: "left",
            stack: "panels",
            stackWeight: gap,
            weight: 2,
            min: 0,
            max: 1,
            border: { display: false },
            grid: { display: false },
            ticks: { display: false },
            title: {
              display: true,
              text: yTitle,
              color: "#000000",
              font: { family: FONT, size: 90 },
              padding: { top: 69, bottom: 0 },
            },
            afterFit: (s: any) => {
              s.width = panelLeft;
            },
          },
          yBot: yScale(106, 6524, botHeight, 1),
        },
      },
      plugins: [panelPlugin],
    } as any);
    return () => chart.destroy();
  }, []);
  return (
    <canvas
      ref={ref}
      width={W}
      height={H}
      style={{ position: "absolute", left: 0, top: 0, display: "block" }}
    />
  );
}
